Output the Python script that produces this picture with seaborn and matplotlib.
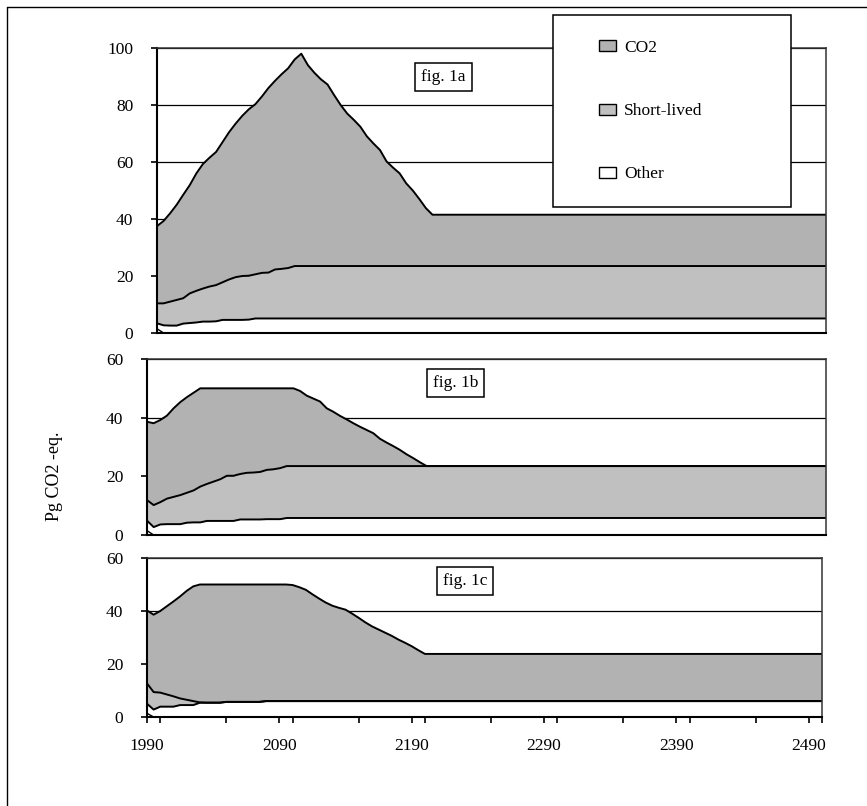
import pandas as pd
import matplotlib
matplotlib.use("Agg")
import matplotlib.pyplot as plt
from matplotlib.patches import Patch, Rectangle
from matplotlib.lines import Line2D
from matplotlib.ticker import MultipleLocator
import seaborn as sns

# --- Data, upper edge of each stacked layer ---
years = list(range(1990, 2205, 5)) + [2500]

# fig. 1a
co2_top_a = [37.5, 39.3, 42.0, 45.0, 48.5, 51.9, 56.0, 59.3, 61.5, 63.5,
             67.0, 70.5, 73.5, 76.2, 78.5, 80.3, 83.0, 86.0, 88.5, 90.8,
             92.9, 96.0, 98.0, 94.0, 91.3, 89.0, 87.2, 83.5, 80.0, 77.0,
             74.8, 72.4, 69.0, 66.5, 64.2, 60.2, 58.0, 56.0, 52.5, 50.0,
             47.0, 43.8, 41.5, 41.5]
short_top_a = [10.4, 10.4, 11.0, 11.6, 12.2, 13.9, 14.8, 15.6, 16.3, 16.8,
               17.8, 18.8, 19.6, 20.0, 20.1, 20.6, 21.1, 21.2, 22.3, 22.5,
               22.8, 23.5, 23.5, 23.5, 23.5, 23.5, 23.5, 23.5, 23.5, 23.5,
               23.5, 23.5, 23.5, 23.5, 23.5, 23.5, 23.5, 23.5, 23.5, 23.5,
               23.5, 23.5, 23.5, 23.5]
other_top_a = [3.4, 2.7, 2.6, 2.6, 3.3, 3.5, 3.7, 4.0, 4.0, 4.1,
               4.6, 4.6, 4.6, 4.6, 4.7, 5.1, 5.1, 5.1, 5.1, 5.1,
               5.1, 5.1, 5.1, 5.1, 5.1, 5.1, 5.1, 5.1, 5.1, 5.1,
               5.1, 5.1, 5.1, 5.1, 5.1, 5.1, 5.1, 5.1, 5.1, 5.1,
               5.1, 5.1, 5.1, 5.1]

# fig. 1b
co2_top_b = [38.6, 38.1, 39.2, 40.7, 43.2, 45.3, 47.0, 48.5, 50.0, 50.0,
             50.0, 50.0, 50.0, 50.0, 50.0, 50.0, 50.0, 50.0, 50.0, 50.0,
             50.0, 50.0, 50.0, 49.1, 47.5, 46.5, 45.5, 43.2, 42.0, 40.6,
             39.4, 38.1, 36.9, 35.8, 34.7, 32.8, 31.5, 30.3, 29.0, 27.5,
             26.2, 24.8, 23.5, 23.5]
short_top_b = [11.9, 10.2, 11.2, 12.4, 13.0, 13.6, 14.4, 15.2, 16.5, 17.4,
               18.2, 19.0, 20.2, 20.2, 20.8, 21.2, 21.3, 21.5, 22.2, 22.4,
               22.8, 23.5, 23.5, 23.5, 23.5, 23.5, 23.5, 23.5, 23.5, 23.5,
               23.5, 23.5, 23.5, 23.5, 23.5, 23.5, 23.5, 23.5, 23.5, 23.5,
               23.5, 23.5, 23.5, 23.5]
other_top_b = [4.9, 2.7, 3.6, 3.7, 3.7, 3.7, 4.2, 4.3, 4.3, 4.8,
               4.8, 4.8, 4.8, 4.8, 5.3, 5.3, 5.3, 5.3, 5.4, 5.4,
               5.4, 5.8, 5.8, 5.8, 5.8, 5.8, 5.8, 5.8, 5.8, 5.8,
               5.8, 5.8, 5.8, 5.8, 5.8, 5.8, 5.8, 5.8, 5.8, 5.8,
               5.8, 5.8, 5.8, 5.8]

# fig. 1c
co2_top_c = [40.2, 38.6, 40.0, 41.8, 43.6, 45.5, 47.6, 49.3, 50.0, 50.0,
             50.0, 50.0, 50.0, 50.0, 50.0, 50.0, 50.0, 50.0, 50.0, 50.0,
             50.0, 50.0, 49.8, 49.0, 48.0, 46.3, 44.7, 43.2, 42.0, 41.2,
             40.5, 39.0, 37.4, 35.7, 34.2, 33.0, 31.8, 30.6, 29.2, 28.0,
             26.7, 25.2, 23.8, 23.8]
short_top_c = [12.7, 9.4, 9.2, 8.5, 7.8, 7.0, 6.5, 6.0, 5.5, 5.4,
               5.4, 5.4, 5.7, 5.7, 5.7, 5.7, 5.7, 5.7, 6.0, 6.0,
               6.0, 6.0, 6.0, 6.0, 6.0, 6.0, 6.0, 6.0, 6.0, 6.0,
               6.0, 6.0, 6.0, 6.0, 6.0, 6.0, 6.0, 6.0, 6.0, 6.0,
               6.0, 6.0, 6.0, 6.0]
other_top_c = [5.0, 2.8, 3.9, 3.9, 3.9, 4.5, 4.5, 4.5, 5.4, 5.4,
               5.4, 5.4, 5.7, 5.7, 5.7, 5.7, 5.7, 5.7, 6.0, 6.0,
               6.0, 6.0, 6.0, 6.0, 6.0, 6.0, 6.0, 6.0, 6.0, 6.0,
               6.0, 6.0, 6.0, 6.0, 6.0, 6.0, 6.0, 6.0, 6.0, 6.0,
               6.0, 6.0, 6.0, 6.0]

# small leftover edge at the very start of each panel
start_years = [1990, 1995]
start_a = [1.5, 0.0]
start_b = [1.5, 0.0]
start_c = [1.4, 0.0]

series_names = ['CO2', 'Short-lived', 'Other']
fig_tags = ['fig. 1a', 'fig. 1b', 'fig. 1c']
x_tick_labels = ['1990', '2090', '2190', '2290', '2390', '2490']

co2_color = '#b2b2b2'
short_color = '#c0c0c0'
other_color = '#ffffff'

# --- Style ---
sns.set_theme(style="white")
plt.rcParams['font.family'] = ['Liberation Serif', 'DejaVu Serif']
plt.rcParams['text.color'] = 'black'
plt.rcParams['xtick.color'] = 'black'
plt.rcParams['ytick.color'] = 'black'
FS = 12.5

W, H = 867, 806
fig = plt.figure(figsize=(W / 100, H / 100), dpi=100)


def px_box(left, top, right, bottom):
    return [left / W, 1 - bottom / H, (right - left) / W, (bottom - top) / H]


panels = [
    dict(rect=px_box(157, 48, 826, 333), ymax=100, tag=fig_tags[0], tagpos=(0.395, 0.898),
         tops=(other_top_a, short_top_a, co2_top_a), start=start_a),
    dict(rect=px_box(147, 359, 826, 535), ymax=60, tag=fig_tags[1], tagpos=(0.421, 0.866),
         tops=(other_top_b, short_top_b, co2_top_b), start=start_b),
    dict(rect=px_box(147, 558, 822, 717), ymax=60, tag=fig_tags[2], tagpos=(0.438, 0.855),
         tops=(other_top_c, short_top_c, co2_top_c), start=start_c),
]

axes = []
for i, p in enumerate(panels):
    ax = fig.add_axes(p['rect'])
    other_top, short_top, co2_top = p['tops']

    ax.fill_between(years, 0, other_top, color=other_color, lw=0, zorder=1)
    ax.fill_between(years, other_top, short_top, color=short_color, lw=0, zorder=1)
    ax.fill_between(years, short_top, co2_top, color=co2_color, lw=0, zorder=1)

    edges = pd.DataFrame({
        'year': years * 3,
        'level': list(other_top) + list(short_top) + list(co2_top),
        'edge': ['other'] * len(years) + ['short'] * len(years) + ['co2'] * len(years),
    })
    sns.lineplot(data=edges, x='year', y='level', units='edge', estimator=None,
                 color='black', lw=1.4, ax=ax, zorder=2)
    sns.lineplot(x=start_years, y=p['start'], color='black', lw=1.0, ax=ax, zorder=2)

    ax.set_xlim(1990, 2500)
    ax.set_ylim(0, p['ymax'])
    ax.yaxis.set_major_locator(MultipleLocator(20))
    ax.set_xlabel('')
    ax.set_ylabel('')
    ax.set_axisbelow(True)
    ax.grid(axis='y', color='black', lw=0.9)
    ax.grid(axis='x', visible=False)

    for side in ['top', 'right']:
        ax.spines[side].set_color('#333333')
        ax.spines[side].set_linewidth(1.1)
    for side in ['left', 'bottom']:
        ax.spines[side].set_color('black')
        ax.spines[side].set_linewidth(1.5)

    ax.tick_params(axis='y', left=True, direction='out', length=4, width=1.2,
                   pad=13, labelsize=FS)

    if i < 2:
        ax.tick_params(axis='x', bottom=False, labelbottom=False)
    else:
        ax.set_xticks(range(1990, 2500, 100))
        ax.set_xticklabels(x_tick_labels)
        ax.xaxis.set_minor_locator(MultipleLocator(50))
        ax.tick_params(axis='x', which='both', bottom=True, direction='out',
                       length=4, width=1.2)
        ax.tick_params(axis='x', which='major', pad=11, labelsize=FS)

    ax.text(p['tagpos'][0], p['tagpos'][1], p['tag'], transform=ax.transAxes,
            ha='left', va='center', fontsize=FS, zorder=4,
            bbox=dict(boxstyle='square,pad=0.35', fc='white', ec='black', lw=1.1))
    axes.append(ax)

# y axis title
fig.text(55 / W, 1 - 476 / H, 'Pg CO2 -eq.', rotation=90, ha='center', va='center',
         fontsize=13)

# legend box sits on top of panel a
fig.add_artist(Rectangle((553 / W, 1 - 207 / H), (791 - 553) / W, (207 - 15) / H,
                         transform=fig.transFigure, fc='white', ec='black', lw=1.1,
                         zorder=5))
handles = [Patch(fc=co2_color, ec='black', lw=1.0),
           Patch(fc=short_color, ec='black', lw=1.0),
           Patch(fc=other_color, ec='black', lw=1.0)]
leg = fig.legend(handles, series_names, loc='upper left',
                 bbox_to_anchor=(599 / W, 1 - 40 / H), frameon=False,
                 borderpad=0, borderaxespad=0, handlelength=1.0, handleheight=0.6,
                 handletextpad=0.45, labelspacing=2.72, fontsize=FS)
leg.set_zorder(6)

# outer frame (only top and left edges fall inside the picture)
fig.add_artist(Line2D([7 / W, 1], [1 - 7 / H, 1 - 7 / H], transform=fig.transFigure,
                      color='black', lw=1.0))
fig.add_artist(Line2D([7 / W, 7 / W], [0, 1 - 7 / H], transform=fig.transFigure,
                      color='black', lw=1.0))

fig.savefig('out.png', dpi=100)
